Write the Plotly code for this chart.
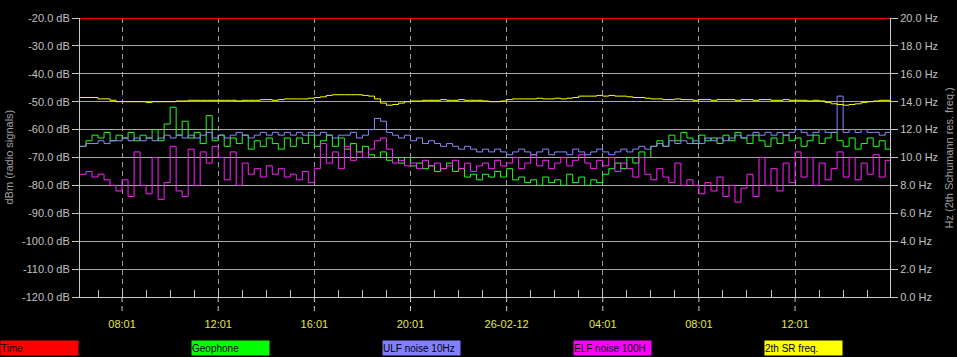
import pandas as pd
import plotly.graph_objects as go

# ---------------- data ----------------
start_time = "2012-02-25 06:16"
step = "15min"
range_end = "2012-02-26 15:58"

geophone = [-66, -64, -62, -63, -61, -64, -62, -63, -61, -64, -62, -63, -60, -64, -58, -52,
            -62, -57, -63, -61, -65, -55, -64, -62, -66, -63, -65, -62, -67, -64, -66, -63,
            -65, -67, -63, -66, -63, -65, -62, -66, -64, -62, -66, -63, -67, -65, -68, -66,
            -69, -70, -68, -71, -70, -72, -70, -73, -72, -74, -73, -75, -74, -72, -75, -74,
            -77, -76, -78, -76, -77, -75, -77, -74, -78, -77, -79, -78, -80, -77, -79, -78,
            -80, -76, -79, -77, -80, -78, -79, -76, -74, -72, -74, -70, -72, -68, -70, -66,
            -64, -66, -62, -64, -61, -63, -65, -62, -64, -63, -65, -62, -64, -61, -63, -65,
            -62, -64, -66, -63, -65, -62, -64, -63, -66, -64, -62, -65, -63, -61, -64, -66,
            -63, -67, -65, -63, -66, -64, -67, -67]

ulf_noise = [-66, -65, -65, -64, -65, -64, -64, -63, -64, -63, -64, -63, -64, -63, -62, -63,
             -62, -63, -62, -63, -62, -61, -63, -62, -63, -62, -61, -62, -63, -62, -61, -62,
             -61, -62, -61, -62, -61, -62, -61, -62, -61, -62, -63, -62, -62, -61, -63, -62,
             -60, -56, -57, -61, -62, -63, -62, -64, -63, -65, -64, -65, -66, -65, -66, -67,
             -66, -67, -68, -67, -68, -67, -68, -69, -68, -67, -68, -69, -68, -67, -69, -68,
             -68, -69, -67, -68, -69, -68, -67, -68, -69, -68, -67, -68, -67, -66, -67, -66,
             -65, -66, -64, -65, -64, -65, -64, -65, -63, -64, -63, -64, -63, -62, -63, -62,
             -61, -62, -61, -62, -61, -62, -61, -60, -61, -62, -61, -60, -61, -61, -48, -61,
             -60, -61, -60, -61, -61, -62, -61, -61]

elf_noise = [-76, -75, -77, -76, -78, -80, -82, -78, -84, -68, -80, -83, -70, -85, -79, -66,
             -82, -84, -67, -80, -68, -72, -66, -70, -78, -68, -80, -72, -76, -74, -77, -73,
             -76, -74, -77, -76, -78, -75, -79, -74, -65, -72, -68, -74, -66, -71, -68, -70,
             -67, -64, -63, -67, -72, -71, -73, -72, -74, -71, -73, -72, -74, -73, -71, -74,
             -72, -75, -73, -72, -74, -71, -73, -72, -70, -74, -72, -69, -73, -71, -74, -72,
             -70, -73, -71, -69, -72, -74, -71, -73, -70, -75, -72, -74, -77, -70, -76, -78,
             -74, -77, -79, -72, -80, -78, -80, -83, -79, -82, -77, -84, -80, -86, -81, -76,
             -84, -70, -80, -74, -82, -72, -79, -68, -77, -70, -80, -72, -78, -74, -68, -77,
             -70, -78, -72, -76, -69, -77, -71, -75]

sr_freq = [14.3, 14.3, 14.3, 14.2, 14.2, 14.1,
           14.0, 14.0, 14.0, 14.0, 14.0, 13.95, 14.0, 14.0, 14.0, 14.0,
           14.05, 14.05, 14.1, 14.1, 14.1, 14.1, 14.1, 14.1, 14.1, 14.1, 14.05, 14.1, 14.1,
           14.1, 14.15, 14.15, 14.1, 14.15,
           14.2, 14.2, 14.2, 14.2, 14.25, 14.3, 14.35,
           14.45, 14.5, 14.5, 14.5, 14.5, 14.5, 14.45, 14.4,
           14.2, 13.9, 13.75, 13.8, 13.9,
           14.0, 14.05, 14.05, 14.1, 14.1, 14.1, 14.15, 14.1, 14.1, 14.15, 14.1, 14.1, 14.1, 14.05,
           14.0, 14.0, 14.05,
           14.15, 14.2, 14.2, 14.2, 14.2, 14.25, 14.2, 14.2, 14.25, 14.2, 14.25, 14.3,
           14.4, 14.4, 14.4, 14.45, 14.4, 14.45, 14.4, 14.4, 14.35, 14.3, 14.3, 14.25,
           14.2, 14.2, 14.15, 14.15, 14.2, 14.15, 14.15, 14.1, 14.15, 14.15, 14.1, 14.15,
           14.15, 14.15, 14.1, 14.15, 14.15, 14.1, 14.15, 14.15, 14.1, 14.1, 14.15, 14.1,
           14.1, 14.1, 14.05, 14.1,
           14.05, 13.95, 13.85, 13.8,
           13.75, 13.8, 13.85, 13.95, 14.0,
           14.05, 14.1, 14.1, 14.1]

time_line = [-20.0, -20.0]

x_tick_vals = ["2012-02-25 08:01", "2012-02-25 12:01", "2012-02-25 16:01", "2012-02-25 20:01",
               "2012-02-26 00:01", "2012-02-26 04:01", "2012-02-26 08:01", "2012-02-26 12:01"]
x_tick_text = ["08:01", "12:01", "16:01", "20:01", "26-02-12", "04:01", "08:01", "12:01"]

db_tick_vals = [-120, -110, -100, -90, -80, -70, -60, -50, -40, -30, -20]
db_tick_text = ["-120.0 dB", "-110.0 dB", "-100.0 dB", "-90.0 dB", "-80.0 dB", "-70.0 dB",
                "-60.0 dB", "-50.0 dB", "-40.0 dB", "-30.0 dB", "-20.0 dB"]
hz_tick_vals = [0, 2, 4, 6, 8, 10, 12, 14, 16, 18, 20]
hz_tick_text = ["0.0 Hz", "2.0 Hz", "4.0 Hz", "6.0 Hz", "8.0 Hz", "10.0 Hz", "12.0 Hz",
                "14.0 Hz", "16.0 Hz", "18.0 Hz", "20.0 Hz"]

legend_names = ["Time", "Geophone", "ULF noise 10Hz", "ELF noise 100H", "2th SR freq."]
legend_colors = ["#ff0000", "#00ff00", "#8080ff", "#ff00ff", "#ffff00"]

# ---------------- figure ----------------
n = len(geophone)
times = pd.date_range(start_time, periods=n, freq=step)

W, H = 957, 357
ML, MR, MT, MB = 80, 67, 13, 60
pw, ph = W - ML - MR, H - MT - MB
FONT = "Liberation Sans, Arial, sans-serif"

fig = go.Figure()
fig.add_trace(go.Scatter(x=[times[0], pd.Timestamp(range_end)], y=time_line, mode="lines",
                         line=dict(color="#ff0000", width=2), name="Time"))
fig.add_trace(go.Scatter(x=times, y=geophone, mode="lines", line_shape="hv",
                         line=dict(color="#22ff22", width=1), name="Geophone"))
fig.add_trace(go.Scatter(x=times, y=elf_noise, mode="lines", line_shape="hv",
                         line=dict(color="#ff20ff", width=1), name="ELF noise 100H"))
fig.add_trace(go.Scatter(x=times, y=ulf_noise, mode="lines", line_shape="hv",
                         line=dict(color="#8888ff", width=1), name="ULF noise 10Hz"))
fig.add_trace(go.Scatter(x=times, y=sr_freq, mode="lines", line_shape="hv", yaxis="y2",
                         line=dict(color="#ffff00", width=1), name="2th SR freq."))

axis_font = dict(family=FONT, size=11, color="#c0c0c0")

fig.update_layout(
    width=W, height=H,
    margin=dict(l=ML, r=MR, t=MT, b=MB),
    paper_bgcolor="#000000", plot_bgcolor="#000000",
    showlegend=False,
    xaxis=dict(
        type="date", range=[start_time, range_end],
        tickmode="array", tickvals=x_tick_vals, ticktext=x_tick_text,
        tickfont=dict(family=FONT, size=11, color="#e6e64c"),
        ticks="outside", ticklen=17, tickcolor="rgba(0,0,0,0)",
        showgrid=True, gridcolor="#9a9a9a", griddash="5px,4px", gridwidth=1,
        showline=True, linecolor="#c8c8c8", linewidth=1,
        zeroline=False,
        minor=dict(ticks="inside", ticklen=7, tickcolor="#c8c8c8", dtick=3600000,
                   tick0="2012-02-25 00:01", showgrid=False),
    ),
    yaxis=dict(
        range=[-120, -20], tickmode="array", tickvals=db_tick_vals, ticktext=db_tick_text,
        tickfont=axis_font, ticks="outside", ticklen=7, tickcolor="#c8c8c8",
        showgrid=True, gridcolor="#a8a8a8", gridwidth=1,
        showline=True, linecolor="#c8c8c8", linewidth=1, zeroline=False,
    ),
    yaxis2=dict(
        range=[0, 20], overlaying="y", side="right",
        tickmode="array", tickvals=hz_tick_vals, ticktext=hz_tick_text,
        tickfont=axis_font, ticks="outside", ticklen=7, tickcolor="#c8c8c8",
        showgrid=False, showline=True, linecolor="#c8c8c8", linewidth=1, zeroline=False,
    ),
)

# dashed extension of the major time ticks below the axis
for tv in x_tick_vals:
    fig.add_shape(type="line", xref="x", yref="paper", x0=tv, x1=tv, y0=0, y1=-17 / ph,
                  line=dict(color="#c8c8c8", width=1, dash="5px,4px"))

# axis titles
fig.add_annotation(text="dBm (radio signals)", textangle=-90, xref="paper", yref="paper",
                   x=(8 - ML) / pw, y=(MT + ph - 155) / ph, xanchor="center", yanchor="middle",
                   showarrow=False, font=dict(family=FONT, size=11, color="#a0a0a0"))
fig.add_annotation(text="Hz (2th Schumann res. freq.)", textangle=-90, xref="paper", yref="paper",
                   x=(948 - ML) / pw, y=(MT + ph - 155) / ph, xanchor="center", yanchor="middle",
                   showarrow=False, font=dict(family=FONT, size=11, color="#a0a0a0"))

# legend boxes along the bottom
for k, (name, col) in enumerate(zip(legend_names, legend_colors)):
    left_px = k * 191
    fig.add_annotation(text=name, xref="paper", yref="paper",
                       x=(left_px - ML) / pw, y=(MT + ph - 357) / ph,
                       xanchor="left", yanchor="bottom", align="left",
                       width=77, height=14, bgcolor=col, borderpad=0, showarrow=False,
                       font=dict(family=FONT, size=10, color="#000000"))

fig.write_html("out.html")
